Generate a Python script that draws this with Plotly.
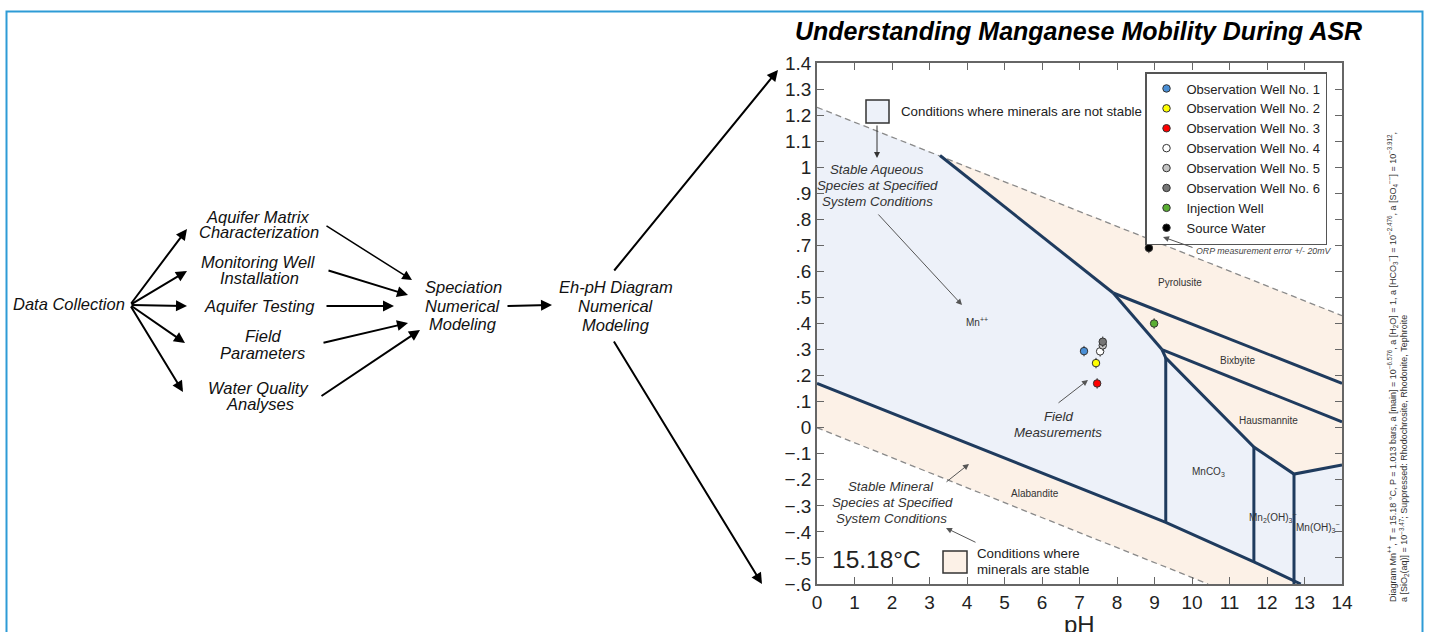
import plotly.graph_objects as go

W, H = 1429, 632
FONT = "Liberation Sans, Arial, sans-serif"

# ---------------- data ----------------
ph_ticks = [0, 1, 2, 3, 4, 5, 6, 7, 8, 9, 10, 11, 12, 13, 14]
eh_tick_vals = [-0.6, -0.5, -0.4, -0.3, -0.2, -0.1, 0.0, 0.1, 0.2, 0.3, 0.4,
                0.5, 0.6, 0.7, 0.8, 0.9, 1.0, 1.1, 1.2, 1.3, 1.4]
eh_tick_text = ["−.6", "−.5", "−.4", "−.3", "−.2", "−.1", "0", ".1", ".2", ".3", ".4",
                ".5", ".6", ".7", ".8", ".9", "1", "1.1", "1.2", "1.3", "1.4"]

well_names = ["Observation Well No. 1", "Observation Well No. 2", "Observation Well No. 3",
              "Observation Well No. 4", "Observation Well No. 5", "Observation Well No. 6",
              "Injection Well", "Source Water"]
well_ph = [7.12, 7.44, 7.47, 7.55, 7.62, 7.62, 8.99, 8.85]
well_eh = [0.294, 0.248, 0.170, 0.293, 0.316, 0.330, 0.400, 0.690]
well_colors = ["#4a8fd6", "#ffff00", "#ff0000", "#ffffff", "#c4c4c4", "#767676", "#5aae32", "#000000"]
eh_error = 0.02  # ORP measurement error +/- 20 mV

# water stability limits (dashed)
water_upper_ph = [0, 14]
water_upper_eh = [1.23, 0.43]
water_lower_ph = [0, 10.43]
water_lower_eh = [0.0, -0.6]

# stability field polygons
aqueous_ph = [0, 3.28, 7.9, 9.2, 9.3, 11.65, 12.72, 14, 14, 12.9, 11.65, 9.3, 0]
aqueous_eh = [1.23, 1.045, 0.517, 0.30, 0.268, -0.074, -0.178, -0.143, -0.6, -0.6, -0.515, -0.363, 0.17]
oxide_ph = [3.28, 14, 14, 12.72, 11.65, 9.3, 9.2, 7.9]
oxide_eh = [1.045, 0.43, -0.143, -0.178, -0.074, 0.268, 0.30, 0.517]
alabandite_ph = [0, 9.3, 11.65, 12.9, 10.43, 0]
alabandite_eh = [0.17, -0.363, -0.515, -0.6, -0.6, 0.0]

# field boundaries
boundaries = [
    ([3.28, 7.9], [1.045, 0.517]),                      # Mn++ / Pyrolusite
    ([7.9, 14], [0.517, 0.17]),                         # Pyrolusite / Bixbyite
    ([7.9, 9.2], [0.517, 0.30]),                        # Mn++ / Bixbyite
    ([9.2, 14], [0.30, 0.022]),                         # Bixbyite / Hausmannite
    ([9.2, 9.3, 11.65, 12.72, 14], [0.30, 0.268, -0.074, -0.178, -0.143]),
    ([9.3, 9.3], [0.268, -0.363]),                      # Mn++ / MnCO3
    ([11.65, 11.65], [-0.074, -0.515]),                 # MnCO3 / Mn2(OH)3-
    ([12.72, 12.72], [-0.178, -0.6]),                   # Mn2(OH)3- / Mn(OH)3-
    ([0, 9.3, 11.65, 12.9], [0.17, -0.363, -0.515, -0.6]),  # Alabandite
]

BLUE_FILL = "#edf1f9"
PEACH_FILL = "#fcf1e7"
NAVY = "#1f3b5e"

# ---------------- figure ----------------
fig = go.Figure()

for xs, ys, col in [(aqueous_ph, aqueous_eh, BLUE_FILL),
                    (oxide_ph, oxide_eh, PEACH_FILL),
                    (alabandite_ph, alabandite_eh, PEACH_FILL)]:
    fig.add_trace(go.Scatter(x=xs, y=ys, fill="toself", fillcolor=col, mode="lines",
                             line=dict(width=0), showlegend=False, hoverinfo="skip"))

for xs, ys in [(water_upper_ph, water_upper_eh), (water_lower_ph, water_lower_eh)]:
    fig.add_trace(go.Scatter(x=xs, y=ys, mode="lines", showlegend=False, hoverinfo="skip",
                             line=dict(color="#8a8a8a", width=1.3, dash="6px,4px")))

for xs, ys in boundaries:
    fig.add_trace(go.Scatter(x=xs, y=ys, mode="lines", showlegend=False, hoverinfo="skip",
                             line=dict(color=NAVY, width=3)))

for name, x, y, c in zip(well_names, well_ph, well_eh, well_colors):
    fig.add_trace(go.Scatter(
        x=[x], y=[y], mode="markers", name=name,
        marker=dict(size=7.5, color=c, line=dict(color="#333333", width=1)),
        error_y=dict(type="constant", value=eh_error, thickness=1, width=0, color="#333333"),
    ))

# invisible trace to create the pixel overlay axes
fig.add_trace(go.Scatter(x=[0], y=[0], xaxis="x2", yaxis="y2", mode="markers",
                         marker=dict(opacity=0), showlegend=False, hoverinfo="skip"))

ann = []


def txt(x, y, s, size=13, italic=False, color="#111111", xanchor="center", yanchor="middle", **kw):
    if italic:
        s = "<i>" + s + "</i>"
    d = dict(x=x, y=y, xref="x2", yref="y2", text=s, showarrow=False,
             font=dict(family=FONT, size=size, color=color), xanchor=xanchor, yanchor=yanchor)
    d.update(kw)
    ann.append(d)


def arrow(x0, y0, x1, y1, width=2, color="#000000", size=1.0, head=2):
    ann.append(dict(x=x1, y=y1, ax=x0, ay=y0, xref="x2", yref="y2", axref="x2", ayref="y2",
                    text="", showarrow=True, arrowhead=head, arrowsize=size, arrowwidth=width,
                    arrowcolor=color, standoff=0, startstandoff=0))


# ---- flowchart ----
FS = 16.5
txt(69, 304, "Data Collection", FS, True)
txt(258, 217, "Aquifer Matrix", FS, True)
txt(259, 232, "Characterization", FS, True)
txt(258, 262, "Monitoring Well", FS, True)
txt(259, 278, "Installation", FS, True)
txt(259, 306, "Aquifer Testing", FS, True)
txt(263, 336, "Field", FS, True)
txt(262, 353, "Parameters", FS, True)
txt(258, 388, "Water Quality", FS, True)
txt(260, 404, "Analyses", FS, True)
txt(463, 287, "Speciation", FS, True)
txt(463, 306, "Numerical", FS, True)
txt(463, 324, "Modeling", FS, True)
txt(616, 287, "Eh-pH Diagram", FS, True)
txt(616, 306, "Numerical", FS, True)
txt(616, 325, "Modeling", FS, True)

for tx, ty in [(187, 229), (187, 271), (187, 306), (185, 343), (183, 392)]:
    arrow(130, 305, tx, ty, 2, size=1.1)
arrow(325, 225, 412, 280, 1.5, size=1.3)
arrow(327, 270, 408, 295, 2, size=1.1)
arrow(325, 306, 394, 306, 2, size=1.1)
arrow(322, 343, 408, 323, 2, size=1.1)
arrow(320, 397, 420, 330, 2, size=1.1)
arrow(506, 306, 552, 305, 2, size=1.1)
arrow(613, 272, 778, 70, 2, size=1.1)
arrow(613, 340, 762, 584, 2, size=1.1)

# ---- title ----
txt(1078, 31, "<b><i>Understanding Manganese Mobility During ASR</i></b>", 25, color="#000000")

# ---- diagram annotations ----
LAB = "#333333"
txt(899, 111, "Conditions where minerals are not stable", 13.3, color="#222222", xanchor="left")
arrow(877, 124, 877, 158, 1, color="#333333", size=1.2)
txt(877, 169, "Stable Aqueous", 13.3, True, LAB)
txt(877, 185, "Species at Specified", 13.3, True, LAB)
txt(877, 201, "System Conditions", 13.3, True, LAB)
arrow(877, 213, 962, 305, 1, color="#555555", size=1.2)
txt(977, 322, "Mn<sup>++</sup>", 10, color=LAB)
txt(1058, 416, "Field", 13.3, True, LAB)
txt(1058, 432, "Measurements", 13.3, True, LAB)
arrow(1057, 404, 1088, 380, 1, color="#555555", size=1.2)
txt(891, 486, "Stable Mineral", 13.3, True, LAB)
txt(892, 502, "Species at Specified", 13.3, True, LAB)
txt(891, 518, "System Conditions", 13.3, True, LAB)
arrow(945, 483, 969, 464, 1, color="#555555", size=1.2)
arrow(977, 543, 946, 528, 1, color="#555555", size=1.2)
txt(876, 559, "15.18°C", 24.5, color="#222222")
txt(975, 553, "Conditions where", 13.3, color="#222222", xanchor="left")
txt(975, 569, "minerals are stable", 13.3, color="#222222", xanchor="left")
txt(1035, 493, "Alabandite", 10, color=LAB)
txt(1180, 282, "Pyrolusite", 10, color=LAB)
txt(1237, 360, "Bixbyite", 10, color=LAB)
txt(1268, 420, "Hausmannite", 10, color=LAB)
txt(1208, 472, "MnCO<sub>3</sub>", 10, color=LAB)
txt(1272, 517, "Mn<sub>2</sub>(OH)<sub>3</sub><sup>−</sup>", 10, color=LAB)
txt(1318, 527, "Mn(OH)<sub>3</sub><sup>−</sup>", 10, color=LAB)
txt(1194, 251, "ORP measurement error +/- 20mV", 8.8, True, "#444444", xanchor="left")
arrow(1194, 248, 1163, 237, 1, color="#555555", size=1.2)
txt(1079, 624, "pH", 24, color="#222222")

# right-side vertical caption
cap = ("Diagram Mn<sup>++</sup>, T = 15.18 °C, P = 1.013 bars, a [main] = 10<sup>−6.576</sup>, "
       "a [H<sub>2</sub>O] = 1, a [HCO<sub>3</sub><sup>−</sup>] = 10<sup>−2.476</sup>, "
       "a [SO<sub>4</sub><sup>−−</sup>] = 10<sup>−3.912</sup>,<br>"
       "a [SiO<sub>2</sub>(aq)] = 10<sup>−3.47</sup>; Suppressed: Rhodochrosite, Rhodonite, Tephroite")
txt(1398, 604, cap, 9, color="#333333", yanchor="bottom", textangle=-90, align="left")

shapes = [
    dict(type="path", xref="x2", yref="y2", path="M 6.5 640 L 6.5 11.5 L 1422.5 11.5 L 1422.5 640",
         line=dict(color="#2e9bd6", width=2)),
    dict(type="rect", xref="x2", yref="y2", x0=866, x1=889, y0=100, y1=123,
         fillcolor=BLUE_FILL, line=dict(color="#333333", width=1.5), layer="above"),
    dict(type="rect", xref="x2", yref="y2", x0=943, x1=967, y0=551, y1=573,
         fillcolor=PEACH_FILL, line=dict(color="#333333", width=1.5), layer="above"),
]

axis_common = dict(showgrid=False, zeroline=False, showline=True, linecolor="#666666", linewidth=1.5,
                   ticks="inside", ticklen=7, tickcolor="#666666", tickwidth=1, mirror="ticks",
                   tickfont=dict(family=FONT, size=19, color="#222222"), fixedrange=True,
                   automargin=False)

fig.update_layout(
    width=W, height=H, autosize=False,
    margin=dict(l=0, r=0, t=0, b=0, pad=0, autoexpand=False),
    paper_bgcolor="white", plot_bgcolor="rgba(0,0,0,0)",
    font=dict(family=FONT),
    xaxis=dict(domain=[817 / W, 1342 / W], range=[0, 14], tickvals=ph_ticks,
               ticklabelstandoff=0, **axis_common),
    yaxis=dict(domain=[1 - 584 / H, 1 - 63 / H], range=[-0.6, 1.4],
               tickvals=eh_tick_vals, ticktext=eh_tick_text, ticklabelstandoff=0, **axis_common),
    xaxis2=dict(domain=[0, 1], range=[0, W], visible=False, anchor="y2", fixedrange=True,
                automargin=False),
    yaxis2=dict(domain=[0, 1], range=[H, 0], visible=False, anchor="x2", fixedrange=True,
                automargin=False),
    legend=dict(x=1145 / W, y=1 - 72 / H, xanchor="left", yanchor="top",
                bgcolor="white", bordercolor="#555555", borderwidth=1.5,
                font=dict(family=FONT, size=13, color="#222222"),
                itemwidth=30, tracegroupgap=0),
    annotations=ann,
    shapes=shapes,
    showlegend=True,
)

fig.write_html("out.html", config={"displayModeBar": False},
               post_script="document.body.style.margin='0';document.body.style.overflow='hidden';")
